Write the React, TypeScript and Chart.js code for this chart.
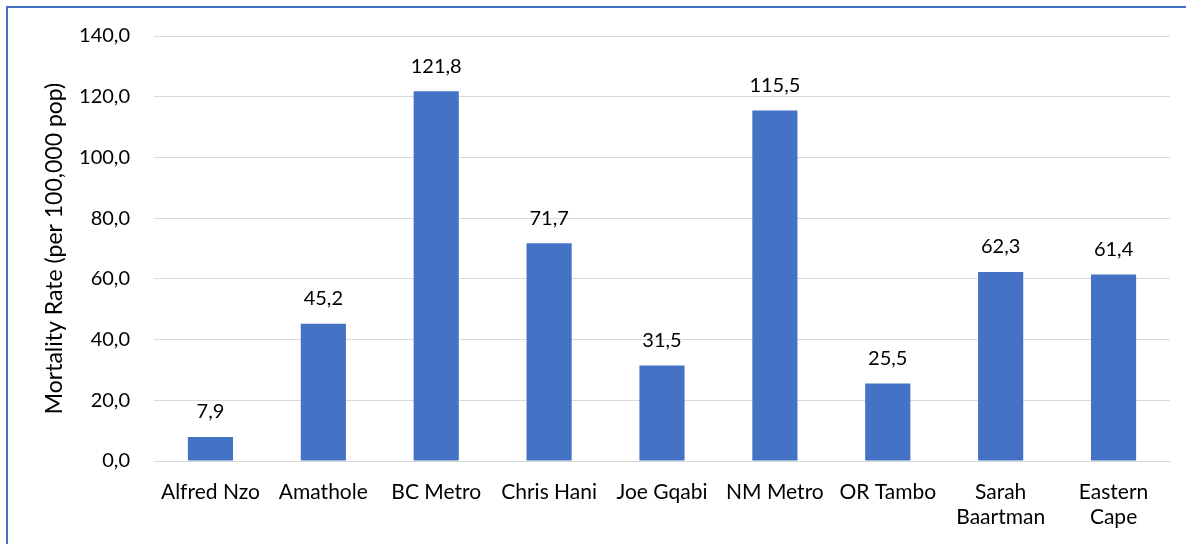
import React, { useEffect, useRef } from "react";
import { Chart, registerables } from "chart.js";

Chart.register(...registerables);

const districts: (string | string[])[] = [
  "Alfred Nzo",
  "Amathole",
  "BC Metro",
  "Chris Hani",
  "Joe Gqabi",
  "NM Metro",
  "OR Tambo",
  ["Sarah", "Baartman"],
  ["Eastern", "Cape"],
];
const mortalityRates: number[] = [7.9, 45.2, 121.8, 71.7, 31.5, 115.5, 25.5, 62.3, 61.4];
const yTicks: number[] = [0, 20, 40, 60, 80, 100, 120, 140];

const FONT = "Lato, 'Open Sans', sans-serif";
const fmt = (v: number) => v.toFixed(1).replace(".", ",");

// Draws each bar's value just above its top edge
const valueLabels = {
  id: "valueLabels",
  afterDatasetsDraw(chart: any) {
    const ctx = chart.ctx;
    const meta = chart.getDatasetMeta(0);
    ctx.save();
    ctx.fillStyle = "#000";
    ctx.font = `20px ${FONT}`;
    ctx.textAlign = "center";
    ctx.textBaseline = "bottom";
    meta.data.forEach((bar: any, i: number) => {
      ctx.fillText(fmt(mortalityRates[i]), bar.x, bar.y - 15);
    });
    ctx.restore();
  },
};

export default function App() {
  const ref = useRef<HTMLCanvasElement | null>(null);

  useEffect(() => {
    if (!ref.current) return;
    const chart = new Chart(ref.current, {
      type: "bar",
      data: {
        labels: districts,
        datasets: [
          {
            data: mortalityRates,
            backgroundColor: "#4472C4",
            categoryPercentage: 1,
            barPercentage: 0.4,
          },
        ],
      },
      options: {
        animation: false,
        responsive: false,
        maintainAspectRatio: false,
        layout: { padding: { top: 36, right: 16, left: 41, bottom: 0 } },
        plugins: { legend: { display: false }, tooltip: { enabled: false } },
        scales: {
          x: {
            grid: { display: false, drawTicks: false },
            border: { color: "#d9d9d9", width: 1 },
            afterFit: (axis: any) => {
              axis.height = 83;
            },
            ticks: {
              color: "#000",
              font: { family: FONT, size: 21, lineHeight: 1.22 },
              padding: 18,
              maxRotation: 0,
              autoSkip: false,
            },
          },
          y: {
            min: 0,
            max: 140,
            afterBuildTicks: (axis: any) => {
              axis.ticks = yTicks.map((v) => ({ value: v }));
            },
            afterFit: (axis: any) => {
              axis.width = 113;
            },
            grid: { color: "#d9d9d9", lineWidth: 1, drawTicks: false },
            border: { display: false },
            ticks: {
              color: "#000",
              font: { family: FONT, size: 20 },
              padding: 24,
              callback: (v: any) => fmt(Number(v)),
            },
            title: {
              display: true,
              text: "Mortality Rate (per 100,000 pop)",
              color: "#000",
              font: { family: FONT, size: 23 },
              padding: { top: 0, bottom: 0 },
            },
          },
        },
      },
      plugins: [valueLabels],
    });
    return () => chart.destroy();
  }, []);

  return (
    <div
      style={{
        position: "fixed",
        left: 0,
        top: 0,
        width: 1186,
        height: 544,
        background: "#fff",
        overflow: "hidden",
      }}
    >
      <div
        style={{
          position: "absolute",
          left: 6,
          top: 6,
          width: 1200,
          height: 560,
          borderLeft: "2px solid #4472C4",
          borderTop: "2px solid #4472C4",
        }}
      />
      <canvas ref={ref} width={1186} height={544} style={{ position: "absolute", left: 0, top: 0 }} />
    </div>
  );
}
